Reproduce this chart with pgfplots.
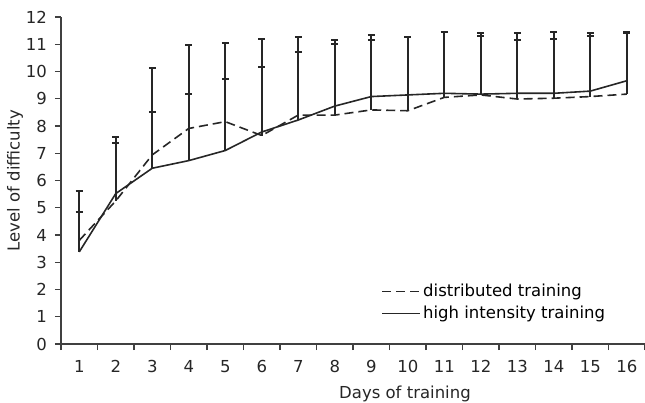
\documentclass[border=0pt]{standalone}
\usepackage{fontspec}
\setmainfont{DejaVu Sans}
\usepackage{pgfplots}
\usepackage{pgfplotstable}
\pgfplotsset{compat=1.18}
\pgfplotstableread{
x  hi    hie   di    die
1  3.38  2.23  3.80  1.05
2  5.52  2.09  5.25  2.12
3  6.45  3.67  6.94  1.59
4  6.73  4.24  7.91  1.26
5  7.10  3.93  8.16  1.56
6  7.78  3.41  7.65  2.53
7  8.22  3.03  8.40  2.33
8  8.73  2.43  8.40  2.60
9  9.08  2.27  8.59  2.57
10 9.14  2.14  8.56  2.70
11 9.20  2.26  9.05  2.39
12 9.17  2.23  9.14  2.16
13 9.20  2.20  8.99  2.17
14 9.20  2.24  9.02  2.17
15 9.28  2.12  9.08  2.23
16 9.66  1.78  9.17  2.23
}\data
\begin{document}
\fontsize{16.5bp}{19bp}\selectfont
\begin{tikzpicture}
\begin{axis}[
  name=ax,
  width=584bp, height=327bp, scale only axis,
  xmin=0.5, xmax=16.5, ymin=0, ymax=12,
  axis lines=left,
  axis line style={-, line width=1.2bp, black!75},
  tick align=outside,
  major tick length=6bp,
  tick style={line width=1.2bp, black!75},
  xtick={0.5,1.5,...,16.5},
  x tick label as interval,
  xticklabels={1,2,3,4,5,6,7,8,9,10,11,12,13,14,15,16},
  ytick={0,1,...,12},
  xticklabel style={yshift=-5bp, text=black!85},
  yticklabel style={xshift=-2.5bp, text=black!85},
  /pgf/number format/assume math mode=true,
  xlabel={Days of training},
  ylabel={Level of difficulty},
  xlabel style={at={(axis description cs:0.589,-0.153)}, anchor=center, text=black!85},
  ylabel style={at={(axis description cs:-0.0788,0.5)}, anchor=center, text=black!85},
  legend style={at={(axis description cs:0.5435,0.058)}, anchor=south west, draw=none, fill=none, row sep=3bp, font=\fontsize{16.5bp}{19bp}\selectfont},
  legend cell align=left,
  legend image code/.code={\draw[#1] (0bp,0bp) -- (38bp,0bp);},
  clip=false,
]
\addplot[black!85, line width=1.6bp, dash pattern=on 9bp off 5bp,
  error bars/.cd, y dir=plus, y explicit,
  error bar style={line width=2bp, black!85, solid},
  error mark options={line width=2bp, black!85, mark size=3.5bp, rotate=90, solid}]
  table[x=x, y=di, y error plus=die] {\data};
\addlegendentry{distributed training}
\addplot[black!85, line width=1.6bp,
  error bars/.cd, y dir=plus, y explicit,
  error bar style={line width=2bp, black!85},
  error mark options={line width=2bp, black!85, mark size=3.5bp, rotate=90}]
  table[x=x, y=hi, y error plus=hie] {\data};
\addlegendentry{high intensity training}
\end{axis}
\pgfresetboundingbox
\path ([xshift=-61bp,yshift=-59bp]ax.south west) rectangle ([yshift=17bp]ax.north east);
\end{tikzpicture}
\end{document}
